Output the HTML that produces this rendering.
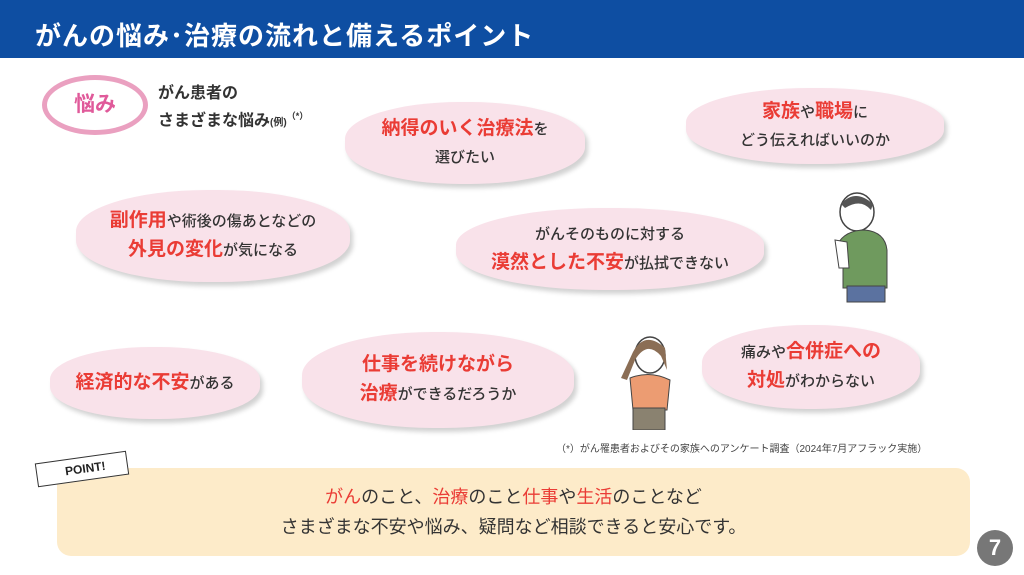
<!DOCTYPE html>
<html><head><meta charset="utf-8"><style>
*{margin:0;padding:0;box-sizing:border-box}
body{width:1024px;height:575px;background:#fff;position:relative;overflow:hidden;font-family:"Liberation Sans","Noto Sans CJK JP",sans-serif;color:#333}
.hd{position:absolute;left:0;top:0;width:1024px;height:58px;background:#0e4ea2;color:#fff;font-size:26px;font-weight:bold;padding:16px 0 0 35px;letter-spacing:1px}
.cl{position:absolute;background:#f9e2ea;border-radius:48%/45%;box-shadow:3px 4px 5px rgba(0,0,0,.18);display:flex;flex-direction:column;align-items:center;justify-content:center;text-align:center;font-size:15px;line-height:28px;font-weight:500}
.r{color:#ea3c35;font-weight:bold;font-size:19px}
.lg{font-size:19px}
</style></head><body>
<div class="hd">がんの悩み･治療の流れと備えるポイント</div>
<div style="position:absolute;left:42px;top:75px;width:106px;height:60px;border:5px solid #eaa0c0;border-radius:50%;background:#fff;color:#e05a9a;font-size:21px;font-weight:bold;text-align:center;line-height:50px">悩み</div>
<div style="position:absolute;left:158px;top:83px;font-size:16px;line-height:22px;font-weight:bold;color:#333">がん患者の<br>さまざまな悩み<span style="font-size:10px">(例)</span><span style="font-size:9px;vertical-align:super">（*）</span></div>

<div class="cl" style="left:345px;top:102px;width:240px;height:82px"><div><span class="r">納得のいく治療法</span>を</div><div>選びたい</div></div>
<div class="cl" style="left:686px;top:88px;width:258px;height:76px"><div><span class="r">家族</span>や<span class="r">職場</span>に</div><div>どう伝えればいいのか</div></div>
<div class="cl" style="left:76px;top:190px;width:274px;height:92px"><div><span class="r">副作用</span>や術後の傷あとなどの</div><div><span class="r">外見の変化</span>が気になる</div></div>
<div class="cl" style="left:456px;top:208px;width:308px;height:82px"><div>がんそのものに対する</div><div><span class="r">漠然とした不安</span>が払拭できない</div></div>
<div class="cl" style="left:50px;top:347px;width:210px;height:72px"><div><span class="r">経済的な不安</span>がある</div></div>
<div class="cl" style="left:302px;top:332px;width:272px;height:96px"><div><span class="r">仕事を続けながら</span></div><div><span class="r">治療</span>ができるだろうか</div></div>
<div class="cl" style="left:702px;top:325px;width:218px;height:84px"><div>痛みや<span class="r">合併症への</span></div><div><span class="r">対処</span>がわからない</div></div>

<svg style="position:absolute;left:825px;top:190px" width="70" height="115">
<ellipse cx="32" cy="22" rx="17" ry="19" fill="#fff" stroke="#444" stroke-width="1.5"/>
<path d="M16 14 Q30 -2 48 14 L46 20 Q36 8 20 18Z" fill="#555"/>
<path d="M12 55 Q20 40 40 40 Q60 42 62 60 L62 98 L18 98 L18 70Z" fill="#6f9a5e" stroke="#444"/>
<rect x="22" y="96" width="38" height="16" fill="#5b72a0" stroke="#444"/>
<path d="M10 50 L14 78 L24 78 L22 52Z" fill="#fff" stroke="#444"/>
</svg>
<svg style="position:absolute;left:615px;top:330px" width="70" height="100">
<ellipse cx="35" cy="25" rx="15" ry="18" fill="#fff" stroke="#444" stroke-width="1.5"/>
<path d="M18 22 Q30 0 50 18 L52 40 L46 26 Q32 10 20 30 L12 50 L6 48Z" fill="#8b6e55"/>
<path d="M15 48 Q35 40 55 50 L52 80 L18 80Z" fill="#ec9c72" stroke="#444"/>
<rect x="18" y="78" width="32" height="22" fill="#8a8270" stroke="#444"/>
</svg>

<div style="position:absolute;left:556px;top:440px;font-size:10px;color:#444">（*）がん罹患者およびその家族へのアンケート調査（2024年7月アフラック実施）</div>

<div style="position:absolute;left:57px;top:468px;width:913px;height:88px;background:#fdebc9;border-radius:14px;text-align:center;font-size:18px;line-height:30px;padding-top:14px;color:#333">
<div><span style="color:#ea3c35">がん</span>のこと、<span style="color:#ea3c35">治療</span>のこと<span style="color:#ea3c35">仕事</span>や<span style="color:#ea3c35">生活</span>のことなど</div>
<div>さまざまな不安や悩み、疑問など相談できると安心です。</div>
</div>
<div style="position:absolute;left:36px;top:457px;width:92px;height:24px;border:1.5px solid #333;background:#fff;transform:rotate(-8deg);font-size:12px;font-weight:bold;padding:4px 0 0 28px;color:#222">POINT!</div>
<div style="position:absolute;left:977px;top:530px;width:36px;height:36px;border-radius:50%;background:#777;color:#fff;font-size:22px;font-weight:bold;text-align:center;line-height:36px">7</div>
</body></html>
